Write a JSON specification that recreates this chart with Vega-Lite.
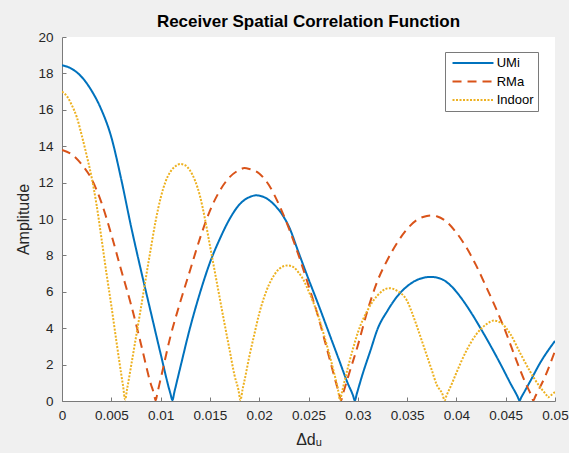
{
  "$schema": "https://vega.github.io/schema/vega-lite/v6.json",
  "width": 493,
  "height": 364,
  "autosize": {"type": "none"},
  "padding": {"left": 62, "top": 37, "right": 14, "bottom": 52},
  "background": "#f0f0f0",
  "title": {"text": "Receiver Spatial Correlation Function", "fontSize": 17, "fontWeight": "bold", "font": "Liberation Sans", "color": "#000000", "anchor": "middle", "offset": -1},
  "config": {
    "view": {"fill": "white", "stroke": null},
    "axis": {"grid": false, "domainColor": "#7a7a7a", "tickColor": "#7a7a7a", "tickSize": -4, "labelFont": "Liberation Sans", "labelFontSize": 13.5, "labelColor": "#262626", "titleFont": "Liberation Sans", "titleFontSize": 16, "titleFontWeight": "normal", "titleColor": "#262626"}
  },
  "datasets": {
    "curves": [
      {"s": "UMi", "x": 0, "y": 18.45}, {"s": "UMi", "x": 0.001, "y": 18.25}, {"s": "UMi", "x": 0.002, "y": 17.8}, {"s": "UMi", "x": 0.003, "y": 17.05}, {"s": "UMi", "x": 0.004, "y": 16.0}, {"s": "UMi", "x": 0.005, "y": 14.5}, {"s": "UMi", "x": 0.006, "y": 12.2}, {"s": "UMi", "x": 0.007, "y": 9.6}, {"s": "UMi", "x": 0.008, "y": 7.2}, {"s": "UMi", "x": 0.009, "y": 4.9}, {"s": "UMi", "x": 0.010, "y": 2.6}, {"s": "UMi", "x": 0.011, "y": 0.4}, {"s": "UMi", "x": 0.0112, "y": 0.05}, {"s": "UMi", "x": 0.0114, "y": 0.5},
      {"s": "UMi", "x": 0.012, "y": 1.85}, {"s": "UMi", "x": 0.013, "y": 4.05}, {"s": "UMi", "x": 0.014, "y": 5.95}, {"s": "UMi", "x": 0.015, "y": 7.6}, {"s": "UMi", "x": 0.016, "y": 8.9}, {"s": "UMi", "x": 0.017, "y": 10.0}, {"s": "UMi", "x": 0.018, "y": 10.8}, {"s": "UMi", "x": 0.019, "y": 11.2}, {"s": "UMi", "x": 0.0197, "y": 11.3}, {"s": "UMi", "x": 0.0205, "y": 11.2}, {"s": "UMi", "x": 0.0215, "y": 10.8}, {"s": "UMi", "x": 0.0225, "y": 10.1}, {"s": "UMi", "x": 0.023, "y": 9.6}, {"s": "UMi", "x": 0.024, "y": 8.15}, {"s": "UMi", "x": 0.025, "y": 6.7}, {"s": "UMi", "x": 0.026, "y": 5.3}, {"s": "UMi", "x": 0.027, "y": 3.85}, {"s": "UMi", "x": 0.028, "y": 2.4}, {"s": "UMi", "x": 0.029, "y": 0.95}, {"s": "UMi", "x": 0.0295, "y": 0.33}, {"s": "UMi", "x": 0.0297, "y": 0.03}, {"s": "UMi", "x": 0.0299, "y": 0.4},
      {"s": "UMi", "x": 0.0305, "y": 1.5}, {"s": "UMi", "x": 0.0313, "y": 2.8}, {"s": "UMi", "x": 0.032, "y": 3.95}, {"s": "UMi", "x": 0.033, "y": 4.95}, {"s": "UMi", "x": 0.034, "y": 5.75}, {"s": "UMi", "x": 0.035, "y": 6.3}, {"s": "UMi", "x": 0.036, "y": 6.65}, {"s": "UMi", "x": 0.0374, "y": 6.82}, {"s": "UMi", "x": 0.0385, "y": 6.7}, {"s": "UMi", "x": 0.0395, "y": 6.3}, {"s": "UMi", "x": 0.0405, "y": 5.65}, {"s": "UMi", "x": 0.0415, "y": 4.85}, {"s": "UMi", "x": 0.0425, "y": 3.95}, {"s": "UMi", "x": 0.0435, "y": 3.0}, {"s": "UMi", "x": 0.0445, "y": 2.0}, {"s": "UMi", "x": 0.0455, "y": 0.95}, {"s": "UMi", "x": 0.0462, "y": 0.25}, {"s": "UMi", "x": 0.0464, "y": 0.03}, {"s": "UMi", "x": 0.0466, "y": 0.22}, {"s": "UMi", "x": 0.0475, "y": 1.1}, {"s": "UMi", "x": 0.0485, "y": 2.1}, {"s": "UMi", "x": 0.05, "y": 3.3},

      {"s": "RMa", "x": 0, "y": 13.8}, {"s": "RMa", "x": 0.001, "y": 13.55}, {"s": "RMa", "x": 0.002, "y": 13.0}, {"s": "RMa", "x": 0.003, "y": 12.2}, {"s": "RMa", "x": 0.004, "y": 10.9}, {"s": "RMa", "x": 0.005, "y": 9.15}, {"s": "RMa", "x": 0.006, "y": 7.2}, {"s": "RMa", "x": 0.007, "y": 5.3}, {"s": "RMa", "x": 0.008, "y": 3.15}, {"s": "RMa", "x": 0.009, "y": 0.95}, {"s": "RMa", "x": 0.0093, "y": 0.45}, {"s": "RMa", "x": 0.0095, "y": 0.03}, {"s": "RMa", "x": 0.0097, "y": 0.5},
      {"s": "RMa", "x": 0.010, "y": 1.2}, {"s": "RMa", "x": 0.011, "y": 3.55}, {"s": "RMa", "x": 0.012, "y": 5.45}, {"s": "RMa", "x": 0.013, "y": 7.2}, {"s": "RMa", "x": 0.014, "y": 8.95}, {"s": "RMa", "x": 0.015, "y": 10.45}, {"s": "RMa", "x": 0.016, "y": 11.55}, {"s": "RMa", "x": 0.017, "y": 12.3}, {"s": "RMa", "x": 0.018, "y": 12.7}, {"s": "RMa", "x": 0.0185, "y": 12.8}, {"s": "RMa", "x": 0.019, "y": 12.75}, {"s": "RMa", "x": 0.020, "y": 12.5}, {"s": "RMa", "x": 0.021, "y": 11.85}, {"s": "RMa", "x": 0.022, "y": 10.8}, {"s": "RMa", "x": 0.023, "y": 9.5}, {"s": "RMa", "x": 0.024, "y": 8.0}, {"s": "RMa", "x": 0.025, "y": 6.35}, {"s": "RMa", "x": 0.026, "y": 4.6}, {"s": "RMa", "x": 0.027, "y": 2.6}, {"s": "RMa", "x": 0.028, "y": 0.6}, {"s": "RMa", "x": 0.0281, "y": 0.42}, {"s": "RMa", "x": 0.0283, "y": 0.03}, {"s": "RMa", "x": 0.0285, "y": 0.4},
      {"s": "RMa", "x": 0.029, "y": 1.3}, {"s": "RMa", "x": 0.030, "y": 3.05}, {"s": "RMa", "x": 0.031, "y": 5.0}, {"s": "RMa", "x": 0.032, "y": 6.6}, {"s": "RMa", "x": 0.033, "y": 7.75}, {"s": "RMa", "x": 0.034, "y": 8.7}, {"s": "RMa", "x": 0.035, "y": 9.45}, {"s": "RMa", "x": 0.036, "y": 9.95}, {"s": "RMa", "x": 0.037, "y": 10.17}, {"s": "RMa", "x": 0.0375, "y": 10.2}, {"s": "RMa", "x": 0.038, "y": 10.15}, {"s": "RMa", "x": 0.039, "y": 9.85}, {"s": "RMa", "x": 0.040, "y": 9.25}, {"s": "RMa", "x": 0.041, "y": 8.45}, {"s": "RMa", "x": 0.042, "y": 7.45}, {"s": "RMa", "x": 0.043, "y": 6.3}, {"s": "RMa", "x": 0.044, "y": 5.1}, {"s": "RMa", "x": 0.045, "y": 3.8}, {"s": "RMa", "x": 0.046, "y": 2.35}, {"s": "RMa", "x": 0.047, "y": 1.0}, {"s": "RMa", "x": 0.0476, "y": 0.3}, {"s": "RMa", "x": 0.0478, "y": 0.03}, {"s": "RMa", "x": 0.048, "y": 0.25}, {"s": "RMa", "x": 0.049, "y": 1.35}, {"s": "RMa", "x": 0.05, "y": 2.75},

      {"s": "Indoor", "x": 0, "y": 17.0}, {"s": "Indoor", "x": 0.0005, "y": 16.75}, {"s": "Indoor", "x": 0.001, "y": 16.25}, {"s": "Indoor", "x": 0.0015, "y": 15.6}, {"s": "Indoor", "x": 0.002, "y": 14.6}, {"s": "Indoor", "x": 0.0025, "y": 13.5}, {"s": "Indoor", "x": 0.003, "y": 12.3}, {"s": "Indoor", "x": 0.0035, "y": 10.8}, {"s": "Indoor", "x": 0.004, "y": 8.95}, {"s": "Indoor", "x": 0.0045, "y": 7.05}, {"s": "Indoor", "x": 0.005, "y": 5.25}, {"s": "Indoor", "x": 0.0055, "y": 3.35}, {"s": "Indoor", "x": 0.006, "y": 1.5}, {"s": "Indoor", "x": 0.0062, "y": 0.8}, {"s": "Indoor", "x": 0.0064, "y": 0.08}, {"s": "Indoor", "x": 0.0066, "y": 0.65},
      {"s": "Indoor", "x": 0.007, "y": 1.9}, {"s": "Indoor", "x": 0.0075, "y": 3.5}, {"s": "Indoor", "x": 0.008, "y": 5.1}, {"s": "Indoor", "x": 0.0085, "y": 6.75}, {"s": "Indoor", "x": 0.009, "y": 8.35}, {"s": "Indoor", "x": 0.0095, "y": 9.9}, {"s": "Indoor", "x": 0.010, "y": 11.15}, {"s": "Indoor", "x": 0.0105, "y": 12.05}, {"s": "Indoor", "x": 0.011, "y": 12.6}, {"s": "Indoor", "x": 0.0115, "y": 12.9}, {"s": "Indoor", "x": 0.012, "y": 13.02}, {"s": "Indoor", "x": 0.0125, "y": 12.95}, {"s": "Indoor", "x": 0.013, "y": 12.65}, {"s": "Indoor", "x": 0.0135, "y": 12.1}, {"s": "Indoor", "x": 0.014, "y": 11.25}, {"s": "Indoor", "x": 0.0145, "y": 10.0}, {"s": "Indoor", "x": 0.015, "y": 8.55}, {"s": "Indoor", "x": 0.0155, "y": 7.1}, {"s": "Indoor", "x": 0.016, "y": 5.65}, {"s": "Indoor", "x": 0.0165, "y": 4.2}, {"s": "Indoor", "x": 0.017, "y": 2.8}, {"s": "Indoor", "x": 0.0175, "y": 1.4}, {"s": "Indoor", "x": 0.0179, "y": 0.6}, {"s": "Indoor", "x": 0.0181, "y": 0.05}, {"s": "Indoor", "x": 0.0183, "y": 0.6},
      {"s": "Indoor", "x": 0.0185, "y": 1.1}, {"s": "Indoor", "x": 0.019, "y": 2.45}, {"s": "Indoor", "x": 0.0195, "y": 3.65}, {"s": "Indoor", "x": 0.020, "y": 4.8}, {"s": "Indoor", "x": 0.0205, "y": 5.7}, {"s": "Indoor", "x": 0.021, "y": 6.4}, {"s": "Indoor", "x": 0.0215, "y": 6.9}, {"s": "Indoor", "x": 0.022, "y": 7.25}, {"s": "Indoor", "x": 0.0229, "y": 7.45}, {"s": "Indoor", "x": 0.0235, "y": 7.35}, {"s": "Indoor", "x": 0.024, "y": 7.05}, {"s": "Indoor", "x": 0.0245, "y": 6.65}, {"s": "Indoor", "x": 0.025, "y": 6.05}, {"s": "Indoor", "x": 0.0255, "y": 5.4}, {"s": "Indoor", "x": 0.026, "y": 4.65}, {"s": "Indoor", "x": 0.0265, "y": 3.75}, {"s": "Indoor", "x": 0.027, "y": 2.8}, {"s": "Indoor", "x": 0.0275, "y": 1.75}, {"s": "Indoor", "x": 0.028, "y": 0.6}, {"s": "Indoor", "x": 0.0282, "y": 0.05}, {"s": "Indoor", "x": 0.0284, "y": 0.5},
      {"s": "Indoor", "x": 0.029, "y": 1.85}, {"s": "Indoor", "x": 0.0295, "y": 2.85}, {"s": "Indoor", "x": 0.030, "y": 3.75}, {"s": "Indoor", "x": 0.031, "y": 5.0}, {"s": "Indoor", "x": 0.032, "y": 5.8}, {"s": "Indoor", "x": 0.0332, "y": 6.2}, {"s": "Indoor", "x": 0.034, "y": 6.05}, {"s": "Indoor", "x": 0.035, "y": 5.5}, {"s": "Indoor", "x": 0.0355, "y": 4.85}, {"s": "Indoor", "x": 0.036, "y": 4.1}, {"s": "Indoor", "x": 0.0365, "y": 3.3}, {"s": "Indoor", "x": 0.037, "y": 2.5}, {"s": "Indoor", "x": 0.0375, "y": 1.7}, {"s": "Indoor", "x": 0.038, "y": 0.9}, {"s": "Indoor", "x": 0.0386, "y": 0.35}, {"s": "Indoor", "x": 0.0388, "y": 0.03}, {"s": "Indoor", "x": 0.039, "y": 0.3},
      {"s": "Indoor", "x": 0.0395, "y": 0.9}, {"s": "Indoor", "x": 0.040, "y": 1.55}, {"s": "Indoor", "x": 0.041, "y": 2.75}, {"s": "Indoor", "x": 0.042, "y": 3.65}, {"s": "Indoor", "x": 0.043, "y": 4.2}, {"s": "Indoor", "x": 0.0438, "y": 4.42}, {"s": "Indoor", "x": 0.0445, "y": 4.3}, {"s": "Indoor", "x": 0.0455, "y": 3.65}, {"s": "Indoor", "x": 0.0465, "y": 2.6}, {"s": "Indoor", "x": 0.0475, "y": 1.6}, {"s": "Indoor", "x": 0.0485, "y": 0.75}, {"s": "Indoor", "x": 0.0491, "y": 0.35}, {"s": "Indoor", "x": 0.0493, "y": 0.2}, {"s": "Indoor", "x": 0.0495, "y": 0.28}, {"s": "Indoor", "x": 0.05, "y": 0.5}
    ]
  },
  "data": {"name": "curves"},
  "mark": {"type": "line", "strokeWidth": 2, "clip": true, "interpolate": "monotone"},
  "encoding": {
    "x": {"field": "x", "type": "quantitative", "scale": {"domain": [0, 0.05], "nice": false, "zero": false},
      "axis": {"title": "Δdᵤ", "values": [0, 0.005, 0.01, 0.015, 0.02, 0.025, 0.03, 0.035, 0.04, 0.045, 0.05], "format": "~g", "labelPadding": 11, "titlePadding": 10, "labelFlush": false}},
    "y": {"field": "y", "type": "quantitative", "scale": {"domain": [0, 20], "nice": false},
      "axis": {"title": "Amplitude", "values": [0, 2, 4, 6, 8, 10, 12, 14, 16, 18, 20], "labelPadding": 13, "titlePadding": 6}},
    "color": {"field": "s", "type": "nominal", "scale": {"domain": ["UMi", "RMa", "Indoor"], "range": ["#0072BD", "#D95319", "#EDB120"]},
      "legend": {"orient": "none", "legendX": 383, "legendY": 15, "title": null, "fillColor": "white", "strokeColor": "#7a7a7a", "padding": 4, "symbolType": "M-3.5,0H3.5", "symbolSize": 137, "symbolStrokeWidth": 2, "symbolOffset": 17, "labelOffset": 16.7, "labelFontSize": 13, "labelFont": "Liberation Sans", "labelColor": "#000000", "rowPadding": 4.5}},
    "strokeDash": {"field": "s", "type": "nominal", "scale": {"domain": ["UMi", "RMa", "Indoor"], "range": [[1, 0], [9, 6], [2, 1.5]]},
      "legend": {"orient": "none", "legendX": 383, "legendY": 15, "title": null, "fillColor": "white", "strokeColor": "#7a7a7a", "padding": 4, "symbolType": "M-3.5,0H3.5", "symbolSize": 137, "symbolStrokeWidth": 2, "symbolOffset": 17, "labelOffset": 16.7, "labelFontSize": 13, "labelFont": "Liberation Sans", "labelColor": "#000000", "rowPadding": 4.5}}
  }
}
